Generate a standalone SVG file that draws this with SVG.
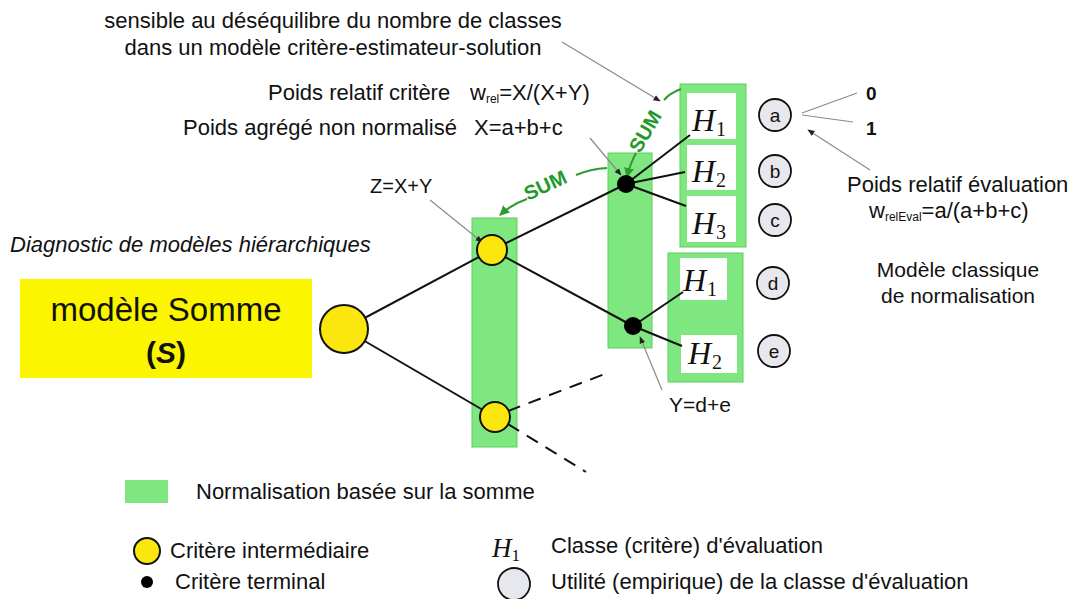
<svg xmlns="http://www.w3.org/2000/svg" width="1074" height="599" viewBox="0 0 1074 599">
<defs>
<style>
text{font-family:"Liberation Sans",Arial,sans-serif;font-size:22px;fill:#111}
.sub{font-size:12px}
.h{font-family:"Liberation Serif","Times New Roman",serif;font-style:italic;font-size:32px}
.hs{font-style:normal;font-size:20px}
.norm{fill:#7fe77f;stroke:#5ccf5c;stroke-width:1}
.wbox{fill:#fff;stroke:none}
.yc{fill:#fbe70d;stroke:#111;stroke-width:2}
.dot{fill:#000}
.util{fill:#e7e7ee;stroke:#111;stroke-width:1.8}
.ul{font-size:19px}
.edge{stroke:#111;stroke-width:2;fill:none}
.dash{stroke:#111;stroke-width:2;fill:none;stroke-dasharray:13 9}
.lead{stroke:#8a8a8a;stroke-width:1.2;fill:none}
.sumline{stroke:#2f9a2f;stroke-width:2;fill:none}
.sum{font-weight:bold;font-size:20px;fill:#1f9a2a}
</style>
<marker id="ga" viewBox="0 0 10 10" refX="9" refY="5" markerWidth="6" markerHeight="6" orient="auto"><path d="M0,1 L10,5 L0,9 z" fill="#222"/></marker>
<marker id="sa" viewBox="0 0 10 10" refX="9" refY="5" markerWidth="5" markerHeight="5" orient="auto"><path d="M0,0 L10,5 L0,10 z" fill="#2f9a2f"/></marker>
</defs>
<rect width="1074" height="599" fill="#fff"/>

<g id="notes">
<text x="333" y="28" text-anchor="middle">sensible au déséquilibre du nombre de classes</text>
<text x="333" y="55" text-anchor="middle">dans un modèle critère-estimateur-solution</text>
<text x="268" y="100">Poids relatif critère</text>
<text x="470" y="100">w<tspan class="sub" dy="3">rel</tspan><tspan dy="-3">=X/(X+Y)</tspan></text>
<text x="183" y="135">Poids agrégé non normalisé</text>
<text x="474" y="135">X=a+b+c</text>
<text x="370" y="193" style="font-size:20px">Z=X+Y</text>
<text x="10" y="252" style="font-style:italic">Diagnostic de modèles hiérarchiques</text>
<text x="669" y="412" style="font-size:21px">Y=d+e</text>
<text x="866" y="100" style="font-weight:bold;font-size:19px">0</text>
<text x="866" y="135" style="font-weight:bold;font-size:19px">1</text>
<text x="847" y="192">Poids relatif évaluation</text>
<text x="869" y="218">w<tspan class="sub" dy="3">relEval</tspan><tspan dy="-3">=a/(a+b+c)</tspan></text>
<text x="958" y="277" text-anchor="middle" style="font-size:21px">Modèle classique</text>
<text x="958" y="303" text-anchor="middle" style="font-size:21px">de normalisation</text>
</g>

<g id="root-box">
<rect x="20" y="279" width="292" height="99" fill="#fbf500"/>
<text x="166" y="321" text-anchor="middle" style="font-size:33px">modèle Somme</text>
<text x="166" y="363" text-anchor="middle" style="font-size:30px;font-weight:bold">(<tspan style="font-style:italic">S</tspan>)</text>
</g>

<g id="norm-col1"><rect class="norm" x="472" y="218" width="45" height="229"/></g>
<g id="norm-col2"><rect class="norm" x="608" y="153" width="44" height="195"/></g>
<g id="classes-1">
<rect class="norm" x="680" y="84" width="66" height="163"/>
<rect class="wbox" x="687" y="93" width="49" height="46"/>
<rect class="wbox" x="687" y="145" width="49" height="45"/>
<rect class="wbox" x="687" y="196" width="49" height="46"/>
</g>
<g id="classes-2">
<rect class="norm" x="668" y="253" width="75" height="129"/>
<rect class="wbox" x="680" y="258" width="47" height="42"/>
<rect class="wbox" x="681" y="335" width="56" height="38"/>
</g>

<g id="connectors">
<line class="edge" x1="344" y1="329" x2="492" y2="250"/>
<line class="edge" x1="344" y1="329" x2="495" y2="417"/>
<line class="edge" x1="492" y1="250" x2="626" y2="184"/>
<line class="edge" x1="492" y1="250" x2="633" y2="326"/>
<line class="edge" x1="626" y1="184" x2="690" y2="135"/>
<line class="edge" x1="626" y1="184" x2="685" y2="172"/>
<line class="edge" x1="626" y1="184" x2="686" y2="206"/>
<line class="edge" x1="633" y1="326" x2="683" y2="292"/>
<line class="edge" x1="633" y1="326" x2="682" y2="346"/>
<line class="dash" x1="508" y1="411" x2="610" y2="372"/>
<line class="dash" x1="508" y1="424" x2="586" y2="472"/>
<line class="lead" x1="562" y1="42" x2="660" y2="101" marker-end="url(#ga)"/>
<line class="lead" x1="590" y1="138" x2="621" y2="175" marker-end="url(#ga)"/>
<line class="lead" x1="430" y1="200" x2="482" y2="242" marker-end="url(#ga)"/>
<line class="lead" x1="662" y1="390" x2="640" y2="337" marker-end="url(#ga)"/>
<line class="lead" x1="870" y1="170" x2="808" y2="130" marker-end="url(#ga)"/>
<line class="lead" x1="802" y1="113" x2="857" y2="93"/>
<line class="lead" x1="802" y1="115" x2="853" y2="122"/>
<path class="sumline" d="M681,89 Q670,93 664,100"/>
<path class="sumline" d="M636,153 Q630,164 627,177" marker-end="url(#sa)"/>
<text class="sum" transform="translate(640,154) rotate(-60)">SUM</text>
<path class="sumline" d="M607,168 Q590,169 576,175"/>
<path class="sumline" d="M527,199 Q512,204 500,215" marker-end="url(#sa)"/>
<text class="sum" transform="translate(528,201) rotate(-25)">SUM</text>
</g>

<g id="root"><circle class="yc" cx="344" cy="329" r="24"/></g>
<g id="crit-Z"><circle class="yc" cx="492" cy="250" r="15"/></g>
<g id="crit-low"><circle class="yc" cx="495" cy="417" r="15"/></g>
<g id="term-X"><circle class="dot" cx="626" cy="184" r="9"/></g>
<g id="term-Y"><circle class="dot" cx="633" cy="326" r="9"/></g>

<g id="H-labels">
<text class="h" x="692" y="131">H<tspan class="hs" dx="1" dy="5">1</tspan></text>
<text class="h" x="692" y="182">H<tspan class="hs" dx="1" dy="5">2</tspan></text>
<text class="h" x="692" y="234">H<tspan class="hs" dx="1" dy="5">3</tspan></text>
<text class="h" x="683" y="291">H<tspan class="hs" dx="1" dy="5">1</tspan></text>
<text class="h" x="688" y="364">H<tspan class="hs" dx="1" dy="5">2</tspan></text>
</g>

<g id="util-a"><circle class="util" cx="775" cy="115" r="16"/><text class="ul" x="775" y="122" text-anchor="middle">a</text></g>
<g id="util-b"><circle class="util" cx="775" cy="171" r="16"/><text class="ul" x="775" y="178" text-anchor="middle">b</text></g>
<g id="util-c"><circle class="util" cx="775" cy="220" r="16"/><text class="ul" x="775" y="227" text-anchor="middle">c</text></g>
<g id="util-d"><circle class="util" cx="773" cy="283" r="16"/><text class="ul" x="773" y="290" text-anchor="middle">d</text></g>
<g id="util-e"><circle class="util" cx="774" cy="351" r="16"/><text class="ul" x="774" y="358" text-anchor="middle">e</text></g>

<g id="legend">
<rect x="125" y="480" width="43" height="23" fill="#7fe77f"/>
<text x="196" y="499">Normalisation basée sur la somme</text>
<circle class="yc" cx="147" cy="551" r="13"/>
<text x="170" y="558">Critère intermédiaire</text>
<circle class="dot" cx="147" cy="582" r="6"/>
<text x="175" y="589">Critère terminal</text>
<text class="h" x="492" y="557" style="font-size:27px">H<tspan class="hs" dy="4" style="font-size:17px">1</tspan></text>
<text x="551" y="553">Classe (critère) d'évaluation</text>
<circle class="util" cx="514" cy="584" r="16"/>
<text x="551" y="589">Utilité (empirique) de la classe d'évaluation</text>
</g>
</svg>
